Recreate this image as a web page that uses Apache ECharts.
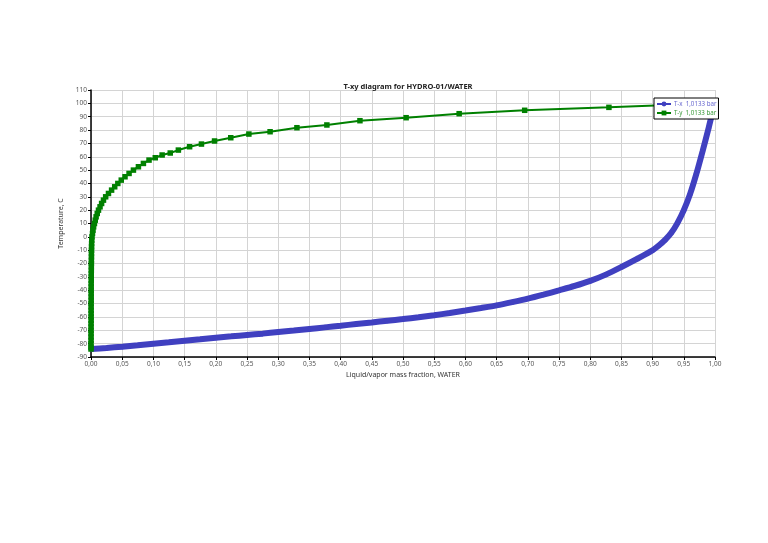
<!DOCTYPE html>
<html>
<head>
<meta charset="utf-8">
<script src="https://cdn.jsdelivr.net/npm/echarts@6/dist/echarts.min.js"></script>
<style>
html,body{margin:0;padding:0;background:#fff;}
#chart{width:768px;height:543px;}
</style>
</head>
<body>
<div id="chart"></div>
<script>
// T-x (liquid): mass fraction of WATER and temperature, C
var liquidX = [0, 0.025, 0.05, 0.075, 0.10, 0.125, 0.15, 0.175, 0.20, 0.225, 0.25, 0.275, 0.30, 0.325, 0.35, 0.375, 0.40, 0.425, 0.45, 0.475, 0.50, 0.525, 0.55, 0.575, 0.60, 0.625, 0.65, 0.675, 0.70, 0.725, 0.75, 0.775, 0.80, 0.825, 0.85, 0.875, 0.90, 0.91, 0.92, 0.93, 0.94, 0.95, 0.96, 0.97, 0.98, 0.99, 0.995, 1.0];
var liquidT = [-84, -83.2, -82.3, -81.2, -80, -79, -77.8, -76.7, -75.5, -74.5, -73.5, -72.5, -71.3, -70.2, -69, -67.8, -66.6, -65.3, -64.1, -62.8, -61.6, -60.2, -58.7, -57, -55.2, -53.3, -51.3, -48.9, -46.3, -43.3, -40.1, -36.8, -33, -28.3, -22.6, -16.5, -10, -6.5, -2.3, 3, 10.5, 20, 32, 47, 64, 82, 91.5, 100];

// T-y (vapor): mass fraction of WATER and temperature, C
var vaporX = [0.0000, 0.0000, 0.0000, 0.0001, 0.0001, 0.0001, 0.0001, 0.0001, 0.0001, 0.0002, 0.0002, 0.0002, 0.0002, 0.0002, 0.0002, 0.0003, 0.0003, 0.0003, 0.0003, 0.0003, 0.0003, 0.0004, 0.0004, 0.0004, 0.0005, 0.0005, 0.0006, 0.0006, 0.0007, 0.0007, 0.0008, 0.0009, 0.0010, 0.0012, 0.0016, 0.0024, 0.0032, 0.0042, 0.0055, 0.0068, 0.0082, 0.0100, 0.0120, 0.0145, 0.0170, 0.0200, 0.0235, 0.0280, 0.0330, 0.0380, 0.0430, 0.0485, 0.0545, 0.0610, 0.0680, 0.0760, 0.0840, 0.093, 0.103, 0.114, 0.127, 0.140, 0.158, 0.177, 0.198, 0.224, 0.253, 0.287, 0.330, 0.378, 0.431, 0.505, 0.590, 0.695, 0.830, 1.0];
var vaporT = [-84, -82.5, -80, -77.5, -75, -72.5, -70, -67.5, -65, -62.5, -60, -57.5, -55, -52.5, -50, -47.5, -45, -42.5, -40, -37.5, -35, -32.5, -30, -27.5, -25, -22.5, -20, -17.5, -15, -12.5, -10, -7.5, -5, -2.5, 0, 2.5, 5, 7.5, 10, 12.5, 15, 17.5, 20, 22.5, 25, 27.5, 30, 32.5, 35, 37.5, 40, 42.5, 45, 47.5, 50, 52.5, 55, 57.5, 59.25, 61.3, 62.8, 65, 67.5, 69.5, 71.8, 74.25, 77, 78.75, 81.75, 83.8, 87, 89.25, 92.25, 94.8, 97, 100];

var seriesNames = ['T-x  1,0133 bar', 'T-y  1,0133 bar'];
var titleText = 'T-xy diagram for HYDRO-01/WATER';
var xAxisName = 'Liquid/vapor mass fraction, WATER';
var yAxisName = 'Temperature, C';

var blue = '#4040c0';
var green = '#008000';

function pairs(xs, ys) { return xs.map(function (x, i) { return [x, ys[i]]; }); }

var chart = echarts.init(document.getElementById('chart'), null, {renderer: 'canvas'});
chart.setOption({
  animation: false,
  backgroundColor: '#fff',
  textStyle: {fontFamily: 'Noto Sans'},
  title: {
    text: titleText,
    left: 403, top: 78,
    textAlign: 'center',
    textStyle: {fontSize: 7.5, fontWeight: 'bold', color: '#222', fontFamily: 'Noto Sans'}
  },
  legend: {
    left: 654, top: 98,
    orient: 'vertical',
    backgroundColor: '#fff',
    borderColor: '#000',
    borderWidth: 1,
    padding: [3, 2, 3, 2],
    itemGap: 3,
    itemWidth: 14,
    itemHeight: 6,
    textStyle: {fontSize: 6.2, padding: [0, 0, 0, -2]},
    data: [
      {name: seriesNames[0], textStyle: {color: '#6a6ad0'}},
      {name: seriesNames[1], textStyle: {color: '#3a9a3a'}}
    ]
  },
  grid: {left: 91, right: 53, top: 90, bottom: 186, containLabel: false},
  xAxis: {
    type: 'value', min: 0, max: 1, interval: 0.05,
    name: xAxisName, nameLocation: 'middle', nameGap: 14,
    nameTextStyle: {fontSize: 7, color: '#333'},
    axisLine: {show: true, onZero: false, lineStyle: {color: '#000', width: 1.5}},
    axisTick: {show: true, length: 3, lineStyle: {color: '#000'}},
    axisLabel: {fontSize: 6.5, color: '#555', margin: 4,
      formatter: function (v) { return v.toFixed(2).replace('.', ','); }},
    splitLine: {show: true, lineStyle: {color: '#d4d4d4', width: 1}}
  },
  yAxis: {
    type: 'value', min: -90, max: 110, interval: 10,
    name: yAxisName, nameLocation: 'middle', nameGap: 17,
    nameTextStyle: {fontSize: 7, color: '#333'},
    axisLine: {show: true, onZero: false, lineStyle: {color: '#000', width: 1.5}},
    axisTick: {show: true, length: 3, lineStyle: {color: '#000'}},
    axisLabel: {fontSize: 6.5, color: '#555', margin: 4},
    splitLine: {show: true, lineStyle: {color: '#d4d4d4', width: 1}}
  },
  series: [
    {
      name: seriesNames[0], type: 'line',
      data: pairs(liquidX, liquidT),
      smooth: 0.3,
      symbol: 'circle', symbolSize: 5, showAllSymbol: true,
      lineStyle: {color: blue, width: 6},
      itemStyle: {color: blue},
      z: 2
    },
    {
      name: seriesNames[1], type: 'line',
      data: pairs(vaporX, vaporT),
      symbol: 'rect', symbolSize: 5.5, showAllSymbol: true,
      lineStyle: {color: green, width: 2},
      itemStyle: {color: green},
      z: 3
    }
  ]
});
</script>
</body>
</html>
